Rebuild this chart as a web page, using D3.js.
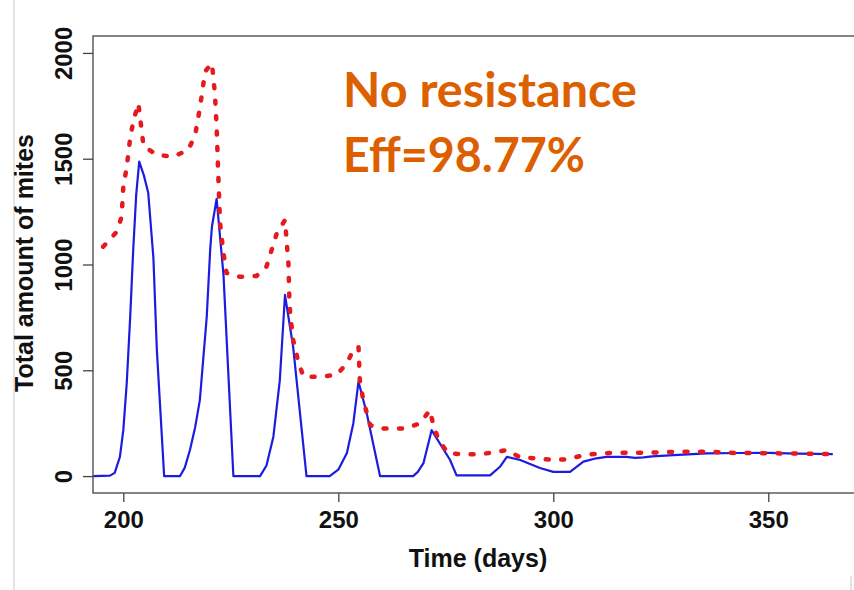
<!DOCTYPE html>
<html>
<head>
<meta charset="utf-8">
<script src="https://cdn.jsdelivr.net/npm/d3@7"></script>
<style>
  body { margin: 0; background: #fff; }
  svg { display: block; }
</style>
</head>
<body>
<div id="vis"></div>
<script>
// total mites, treated colony (blue, solid)
const blueDays = [193, 196.9, 198, 199.2, 200, 200.8, 201.6, 202.3, 203, 203.7, 204.8, 205.8, 207, 207.8, 209.5,
  213.2, 214.3, 215.5, 216.7, 217.8, 219.4, 220.2, 220.6, 221.7, 223.3, 225.6,
  231.8, 233.3, 234.9, 236.4, 237.6, 239.5, 242.6,
  248, 250, 252, 253.5, 254.7, 256.6, 259.7,
  267.4, 268.5, 269.8, 271.7, 276, 277.5,
  285.3, 287.6, 289.2, 292.3, 296.9, 300, 303.9, 307, 310, 312.4, 317, 319, 321, 323,
  328, 335.7, 343.4, 350, 357, 365];
const blueVals = [0, 2, 15, 90, 217, 440, 752, 1068, 1330, 1486, 1420, 1338, 1030, 596, 0,
  0, 40, 123, 230, 359, 752, 1068, 1177, 1310, 950, 0,
  0, 50, 186, 454, 856, 611, 0,
  0, 30, 109, 250, 446, 298, 0,
  0, 20, 61, 217, 76, 3,
  3, 44, 91, 76, 38, 20, 20, 68, 84, 91, 91, 86, 88, 93,
  99, 107, 109, 110, 106, 104];

// total mites, reference (red, dotted)
const redDays = [195.3, 198.5, 199.6, 200, 200.8, 201.6, 202.3, 203.5, 204.7, 207.8, 211.6, 215.1, 216.7, 217.4,
  218.2, 219, 220.6, 221.3, 221.7, 222.1, 222.5, 223.3, 224, 227.1, 231, 233.3, 235.7, 237.6,
  238.4, 238.6, 238.8, 239.5, 240.7, 241.9, 245.7, 249.6, 252, 253.5, 254.7,
  255, 255.8, 257.4, 259.7, 262, 265.5, 269, 271.3, 272, 273.3, 275.6, 279.5, 283, 286.8, 289.2,
  292.3, 296.1, 300, 303.5, 307, 310.9, 314.3, 321, 329, 336.4, 340.3, 350, 365];
const redVals = [1084, 1155, 1226, 1368, 1462, 1597, 1675, 1762, 1560, 1518, 1510, 1541, 1612, 1691,
  1793, 1912, 1951, 1809, 1652, 1415, 1195, 1053, 960, 942, 946, 990, 1148, 1210,
  1006, 848, 770, 643, 540, 470, 470, 478, 533, 596, 611,
  454, 359, 241, 225, 225, 225, 249, 312, 250, 170, 107, 103, 103, 115, 123,
  88, 84, 76, 80, 99, 107, 110, 110, 115, 115, 110, 108, 104];

const xTicks = [200, 250, 300, 350];
const yTicks = [0, 500, 1000, 1500, 2000];
const noteLines = ["No resistance", "Eff=98.77%"];

const width = 854, height = 590;
const plotLeft = 93, plotTop = 36, plotRight = 856, plotBottom = 493;

const x = d3.scaleLinear().domain([192.95, 370.4]).range([plotLeft, plotRight]);
const y = d3.scaleLinear().domain([-80, 2080]).range([plotBottom, plotTop]);

const svg = d3.select("#vis").append("svg")
  .attr("width", width)
  .attr("height", height)
  .style("font-family", "'Liberation Sans', Arial, sans-serif");

// slide leftovers
svg.append("line").attr("x1", 14).attr("x2", 14).attr("y1", 0).attr("y2", height)
  .attr("stroke", "#e4e4e4").attr("stroke-width", 2);
svg.append("line").attr("x1", 851).attr("x2", 851).attr("y1", 576).attr("y2", height)
  .attr("stroke", "#d8d8d8").attr("stroke-width", 1.5);

const line = d3.line().x(d => x(d[0])).y(d => y(d[1]));

svg.append("path")
  .datum(blueDays.map((d, i) => [d, blueVals[i]]))
  .attr("fill", "none")
  .attr("stroke", "#1c1ce0")
  .attr("stroke-width", 2.2)
  .attr("stroke-linejoin", "round")
  .attr("d", line);

svg.append("path")
  .datum(redDays.map((d, i) => [d, redVals[i]]))
  .attr("fill", "none")
  .attr("stroke", "#e51a1f")
  .attr("stroke-width", 4.5)
  .attr("stroke-linecap", "round")
  .attr("stroke-dasharray", "3,12.5")
  .attr("d", line);

// box
svg.append("rect")
  .attr("x", plotLeft).attr("y", plotTop)
  .attr("width", plotRight - plotLeft).attr("height", plotBottom - plotTop)
  .attr("fill", "none").attr("stroke", "#444").attr("stroke-width", 1.3);

const xAxis = svg.append("g")
  .attr("transform", `translate(0,${plotBottom})`)
  .call(d3.axisBottom(x).tickValues(xTicks).tickSize(9).tickSizeOuter(0).tickFormat(d3.format("d")));
xAxis.select(".domain").remove();
xAxis.selectAll("line").attr("stroke", "#444").attr("stroke-width", 1.3);
xAxis.selectAll("text")
  .attr("y", 35).attr("dy", 0)
  .attr("fill", "#111")
  .style("font-size", "24px").style("font-weight", "bold")
  .style("font-family", "'Liberation Sans', Arial, sans-serif");

const yAxis = svg.append("g")
  .attr("transform", `translate(${plotLeft},0)`)
  .call(d3.axisLeft(y).tickValues(yTicks).tickSize(10).tickSizeOuter(0).tickFormat(d3.format("d")));
yAxis.select(".domain").remove();
yAxis.selectAll("line").attr("stroke", "#444").attr("stroke-width", 1.3);
yAxis.selectAll("text")
  .attr("x", 0).attr("y", -21).attr("dy", 0)
  .attr("text-anchor", "middle")
  .attr("transform", "rotate(-90)")
  .attr("fill", "#111")
  .style("font-size", "24px").style("font-weight", "bold")
  .style("font-family", "'Liberation Sans', Arial, sans-serif");

svg.append("text")
  .attr("x", 478).attr("y", 567)
  .attr("text-anchor", "middle")
  .attr("fill", "#111")
  .style("font-size", "25px").style("font-weight", "bold")
  .text("Time (days)");

svg.append("text")
  .attr("transform", "translate(33,263) rotate(-90)")
  .attr("text-anchor", "middle")
  .attr("fill", "#111")
  .style("font-size", "25px").style("font-weight", "bold")
  .text("Total amount of mites");

// annotation
svg.selectAll("text.note")
  .data(noteLines)
  .join("text")
    .attr("class", "note")
    .attr("x", 343)
    .attr("y", (d, i) => 107 + i * 64.5)
    .attr("fill", "#dc6000")
    .attr("textLength", (d, i) => i === 0 ? 294 : 242)
    .attr("lengthAdjust", "spacingAndGlyphs")
    .style("font-family", "Lato, 'Open Sans', sans-serif")
    .style("font-size", "47px")
    .style("font-weight", "bold")
    .text(d => d);
</script>
</body>
</html>
